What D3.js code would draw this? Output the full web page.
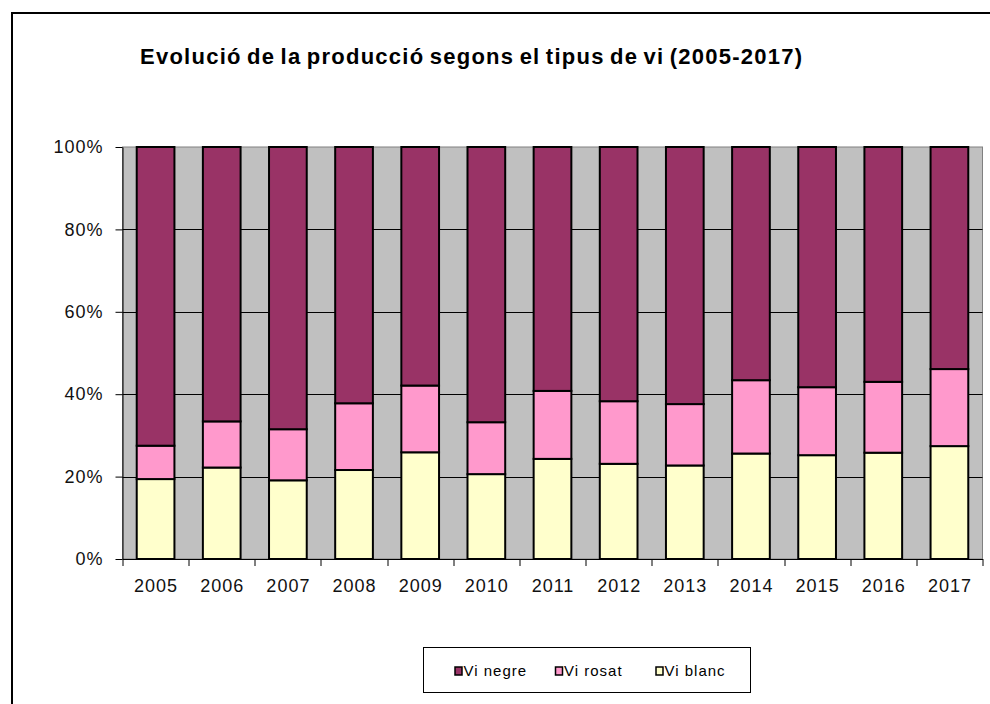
<!DOCTYPE html>
<html>
<head>
<meta charset="utf-8">
<script src="https://cdn.jsdelivr.net/npm/d3@7"></script>
<style>
  body { margin: 0; background: #fff; }
  text { font-family: "Liberation Sans", Arial, sans-serif; }
</style>
</head>
<body>
<div id="chart"></div>
<script>
const years = ["2005", "2006", "2007", "2008", "2009", "2010", "2011", "2012", "2013", "2014", "2015", "2016", "2017"]
// percentatges llegits del gràfic
const viBlanc = [19.4, 22.2, 19.1, 21.6, 25.9, 20.6, 24.3, 23.1, 22.7, 25.6, 25.2, 25.8, 27.4]
const viRosat = [8.1, 11.2, 12.4, 16.2, 16.2, 12.6, 16.5, 15.2, 14.9, 17.8, 16.5, 17.2, 18.7]
const viNegre = [72.5, 66.6, 68.5, 62.2, 57.9, 66.8, 59.2, 61.7, 62.4, 56.6, 58.3, 57.0, 53.9]
const yTicks = [0, 20, 40, 60, 80, 100]

const seriesNames = ["Vi blanc", "Vi rosat", "Vi negre"]
const colors = { "Vi blanc": "#FFFFCC", "Vi rosat": "#FF99CC", "Vi negre": "#993366" }
const legendOrder = ["Vi negre", "Vi rosat", "Vi blanc"]

const W = 990, H = 704
const MARGIN = { TOP: 147, BOTTOM: 145, LEFT: 122.5, RIGHT: 7.5 }
const WIDTH = W - MARGIN.LEFT - MARGIN.RIGHT
const HEIGHT = H - MARGIN.TOP - MARGIN.BOTTOM

const table = years.map((y, i) => ({
    year: y,
    "Vi blanc": viBlanc[i],
    "Vi rosat": viRosat[i],
    "Vi negre": viNegre[i]
}))

const svg = d3.select("#chart").append("svg")
    .attr("width", W)
    .attr("height", H)

// marc del gràfic
svg.append("rect")
    .attr("x", 12).attr("y", 13)
    .attr("width", 1100).attr("height", 1000)
    .attr("fill", "none")
    .attr("stroke", "#000")
    .attr("stroke-width", 2)

svg.append("text")
    .attr("x", 140)
    .attr("y", 64)
    .attr("font-size", 22)
    .attr("font-weight", "bold")
    .attr("letter-spacing", 1.25)
    .attr("word-spacing", -2)
    .text("Evolució de la producció segons el tipus de vi (2005-2017)")

const g = svg.append("g")
    .attr("transform", `translate(${MARGIN.LEFT}, ${MARGIN.TOP})`)

const x = d3.scaleBand()
    .domain(years)
    .range([0, WIDTH])
    .paddingInner(0.43)
    .paddingOuter(0.215)

const y = d3.scaleLinear()
    .domain([0, 100])
    .range([HEIGHT, 0])

// fons de l'àrea de traçat
g.append("rect")
    .attr("width", WIDTH)
    .attr("height", HEIGHT)
    .attr("fill", "#C0C0C0")
    .attr("stroke", "#808080")
    .attr("stroke-width", 1)

// línies de quadrícula
g.append("g")
    .selectAll("line")
    .data(yTicks.slice(1, -1))
    .join("line")
      .attr("x1", 0)
      .attr("x2", WIDTH)
      .attr("y1", d => Math.round(y(d)) + 0.5)
      .attr("y2", d => Math.round(y(d)) + 0.5)
      .attr("stroke", "#000")
      .attr("stroke-width", 1)

const stack = d3.stack().keys(seriesNames)
const layers = stack(table)

g.append("g")
    .selectAll("g")
    .data(layers)
    .join("g")
      .attr("fill", d => colors[d.key])
    .selectAll("rect")
    .data(d => d)
    .join("rect")
      .attr("x", d => x(d.data.year))
      .attr("y", d => y(d[1]))
      .attr("width", x.bandwidth())
      .attr("height", d => y(d[0]) - y(d[1]))
      .attr("stroke", "#000")
      .attr("stroke-width", 2)

// eix Y
const yAxis = g.append("g")
    .call(d3.axisLeft(y).tickValues(yTicks).tickFormat(d => d + "%").tickSize(7).tickSizeOuter(0))
yAxis.select(".domain").attr("stroke", "#000")
yAxis.selectAll("text")
    .attr("font-size", 18)
    .attr("fill", "#111")
    .attr("letter-spacing", 1)
    .attr("x", -19)
    .style("font-family", "'Liberation Sans', Arial, sans-serif")

// eix X amb marques entre categories
const xAxis = g.append("g")
    .attr("transform", `translate(0, ${HEIGHT})`)
    .call(d3.axisBottom(x).tickSize(0).tickSizeOuter(0))
xAxis.select(".domain").attr("stroke", "#000")
xAxis.selectAll("text")
    .attr("font-size", 18)
    .attr("fill", "#111")
    .attr("letter-spacing", 1)
    .attr("dx", 0.5)
    .attr("dy", 30)
    .style("font-family", "'Liberation Sans', Arial, sans-serif")

xAxis.append("g")
    .selectAll("line")
    .data(d3.range(years.length + 1))
    .join("line")
      .attr("x1", i => Math.round(i * x.step()) + 0.5)
      .attr("x2", i => Math.round(i * x.step()) + 0.5)
      .attr("y1", 0)
      .attr("y2", 7)
      .attr("stroke", "#000")

// llegenda
const legend = svg.append("g")
    .attr("transform", "translate(423.5, 647.5)")

legend.append("rect")
    .attr("width", 327)
    .attr("height", 45)
    .attr("fill", "#fff")
    .attr("stroke", "#000")
    .attr("stroke-width", 1)

const legendX = d3.scalePoint()
    .domain(legendOrder)
    .range([31.5, 232.5])

const items = legend.selectAll(".item")
    .data(legendOrder)
    .join("g")
      .attr("class", "item")
      .attr("transform", d => `translate(${legendX(d)}, 0)`)

items.append("rect")
    .attr("x", 0)
    .attr("y", 19.5)
    .attr("width", 7)
    .attr("height", 8)
    .attr("fill", d => colors[d])
    .attr("stroke", "#000")
    .attr("stroke-width", 1.5)

items.append("text")
    .attr("x", 8.5)
    .attr("y", 28)
    .attr("font-size", 15)
    .attr("letter-spacing", 1)
    .text(d => d)
</script>
</body>
</html>
